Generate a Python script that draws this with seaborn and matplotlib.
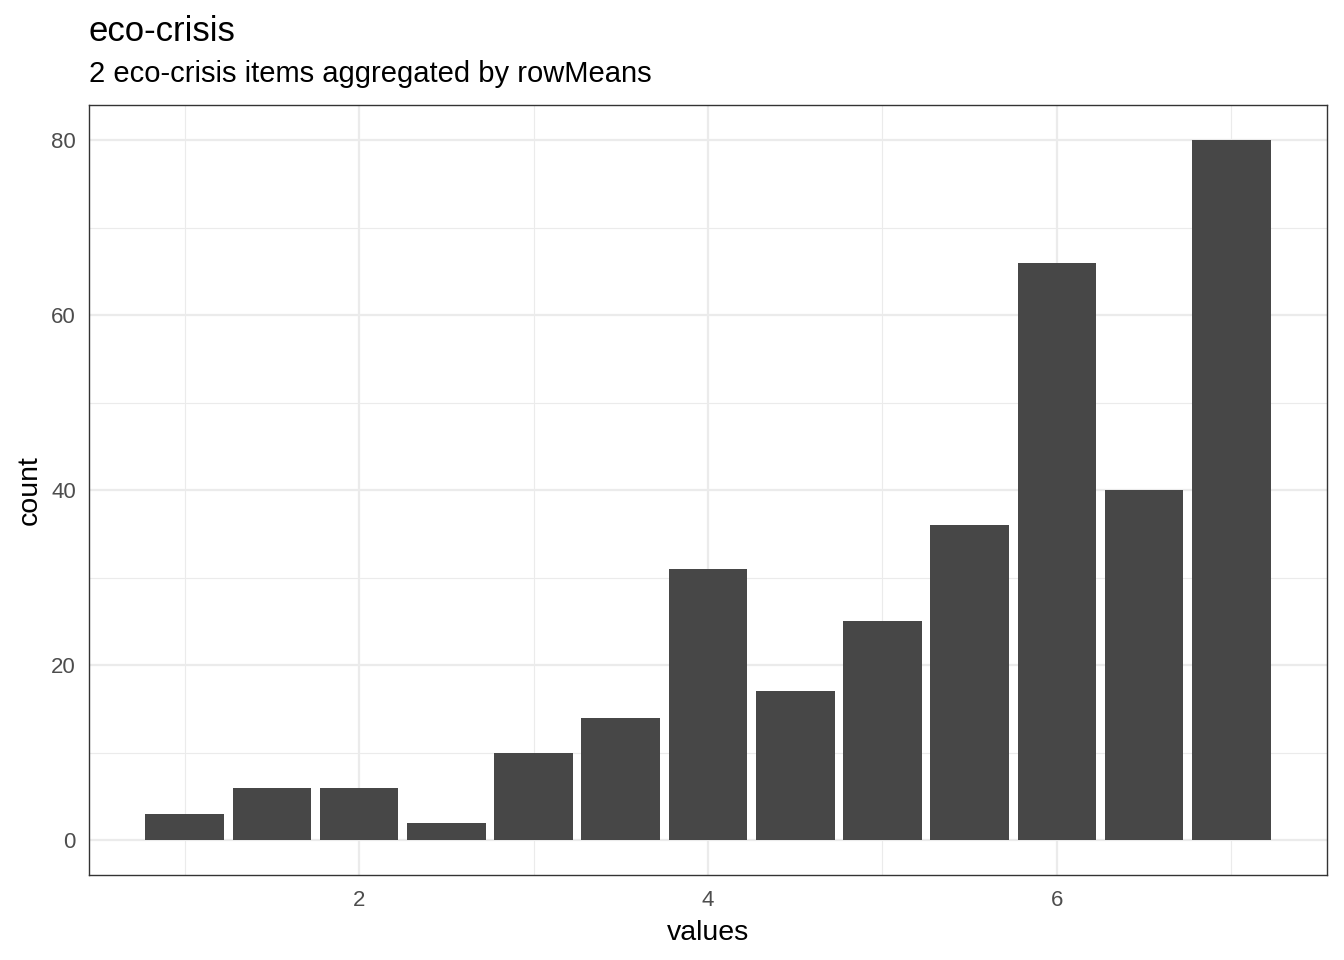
import matplotlib
matplotlib.use("Agg")
import matplotlib.pyplot as plt
import seaborn as sns
import numpy as np
import pandas as pd

values = [1.0, 1.5, 2.0, 2.5, 3.0, 3.5, 4.0, 4.5, 5.0, 5.5, 6.0, 6.5, 7.0]
counts = [3, 6, 6, 2, 10, 14, 31, 17, 25, 36, 66, 40, 80]
x_major = [2, 4, 6]
x_minor = [1, 3, 5, 7]
y_major = [0, 20, 40, 60, 80]
y_minor = [10, 30, 50, 70]

sns.set_style("white")
plt.rcParams['font.family'] = ['Liberation Sans', 'DejaVu Sans']

df = pd.DataFrame({"values": values, "count": counts})

fig = plt.figure(figsize=(13.44, 9.6), dpi=100)
ax = fig.add_axes([89/1344, 1-875/960, (1327-89)/1344, (875-105)/960])

sns.barplot(data=df, x="values", y="count", native_scale=True, width=0.9,
            color="#474747", saturation=1, linewidth=0, ax=ax, zorder=3)

ax.set_xlim(0.4525, 7.5475)
ax.set_ylim(-4, 84)
ax.set_xticks(x_major)
ax.set_xticks(x_minor, minor=True)
ax.set_yticks(y_major)
ax.set_yticks(y_minor, minor=True)
ax.set_xticklabels([str(v) for v in x_major])
ax.grid(which="major", color="#EBEBEB", linewidth=1.6, zorder=0)
ax.grid(which="minor", color="#EBEBEB", linewidth=0.8, zorder=0)
ax.set_axisbelow(True)
for s in ax.spines.values():
    s.set_color("#333333")
    s.set_linewidth(1.0)
ax.tick_params(axis="both", which="major", length=4, width=1.0, color="#333333",
               labelsize=16, labelcolor="#4D4D4D")
ax.tick_params(axis="x", which="major", pad=7)
ax.tick_params(axis="y", which="major", pad=5.5)
ax.tick_params(axis="both", which="minor", length=0)
ax.set_xlabel("values", fontsize=20.5, color="black", labelpad=6)
ax.set_ylabel("count", fontsize=20.5, color="black", labelpad=6)

fig.text(89/1344, 1-41/960, "eco-crisis", fontsize=25, color="black", ha="left", va="baseline")
fig.text(89/1344, 1-82/960, "2 eco-crisis items aggregated by rowMeans", fontsize=21,
         color="black", ha="left", va="baseline")

fig.savefig("out.png", dpi=100)
